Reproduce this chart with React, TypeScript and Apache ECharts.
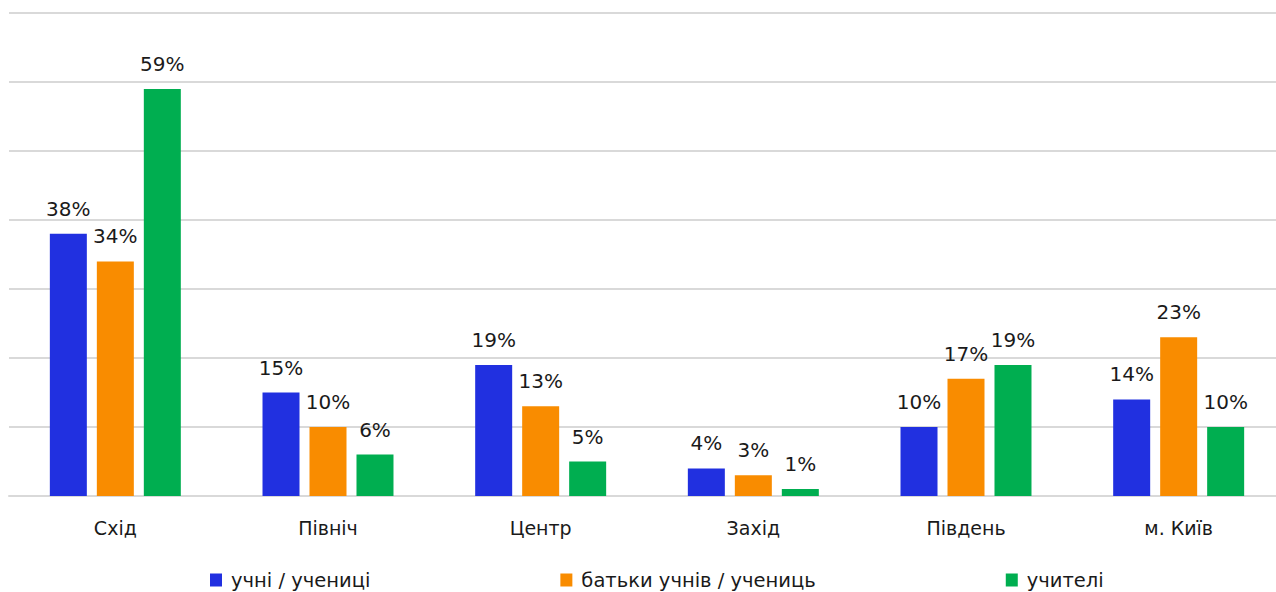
import React, { useEffect, useRef } from "react";
import * as echarts from "echarts";

const categories = ["Схід", "Північ", "Центр", "Захід", "Південь", "м. Київ"];
const seriesNames = ["учні / учениці", "батьки учнів / учениць", "учителі"];
const pupils = [38, 15, 19, 4, 10, 14];
const parents = [34, 10, 13, 3, 17, 23];
const teachers = [59, 6, 5, 1, 19, 10];
const colors = ["#2130E0", "#F98C00", "#00AE50"];

const FONT = "'DejaVu Sans', sans-serif";

export default function App() {
  const ref = useRef<HTMLDivElement>(null);
  useEffect(() => {
    if (!ref.current) return;
    const chart = echarts.init(ref.current, null, { renderer: "svg" });
    const values = [pupils, parents, teachers];
    chart.setOption({
      animation: false,
      textStyle: { fontFamily: FONT },
      grid: { left: 9, top: 13, right: 0, height: 483, containLabel: false },
      legend: {
        bottom: -3,
        left: 205,
        itemGap: 190,
        itemWidth: 12,
        itemHeight: 13,
        icon: "rect",
        textStyle: { fontSize: 19.5, color: "#1a1a1a", fontFamily: FONT, padding: [0, 0, 0, 4] },
        data: seriesNames,
      },
      xAxis: {
        type: "category",
        data: categories,
        axisLine: { show: true, lineStyle: { color: "#D9D9D9", width: 2 } },
        axisTick: { show: false },
        axisLabel: { fontSize: 19, color: "#1a1a1a", margin: 22, fontFamily: FONT },
      },
      yAxis: {
        type: "value",
        min: 0,
        max: 70,
        interval: 10,
        axisLabel: { show: false },
        axisLine: { show: false },
        axisTick: { show: false },
        splitLine: { lineStyle: { color: "#D9D9D9", width: 2 } },
      },
      series: seriesNames.map((name, i) => ({
        name,
        type: "bar",
        data: values[i],
        barWidth: 37,
        barGap: "27%",
        itemStyle: { color: colors[i] },
        label: {
          show: true,
          position: "top",
          distance: 15,
          formatter: "{c}%",
          fontSize: 20,
          color: "#1a1a1a",
          fontFamily: FONT,
        },
      })),
    });
    return () => chart.dispose();
  }, []);
  return (
    <div
      style={{ position: "fixed", left: 0, top: 0, width: 1276, height: 592, overflow: "hidden", background: "#fff" }}
    >
      <div ref={ref} style={{ width: 1285, height: 592 }} />
    </div>
  );
}
